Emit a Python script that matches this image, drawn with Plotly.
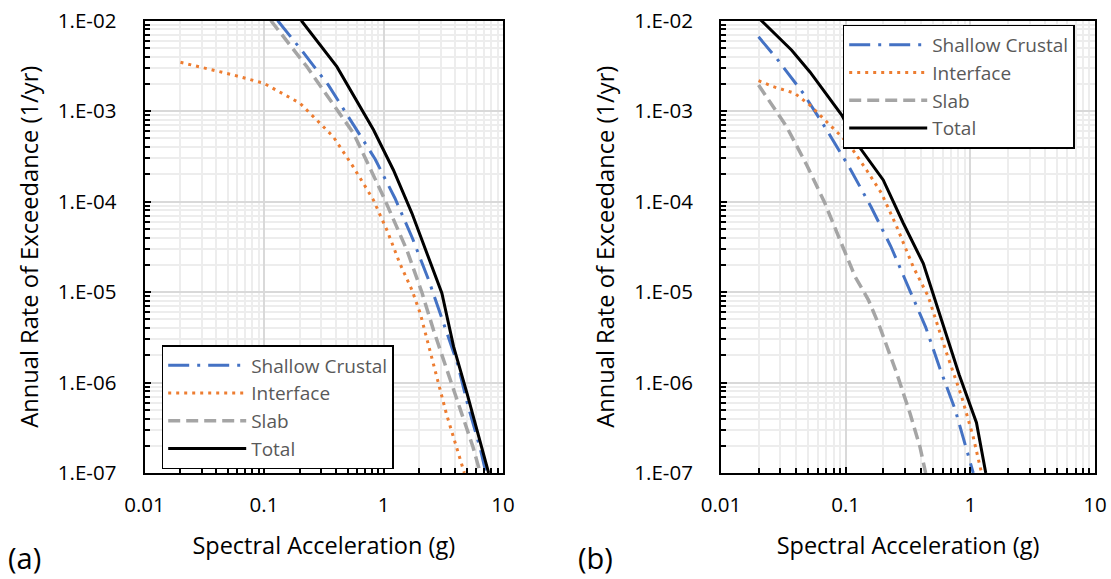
import plotly.graph_objects as go

# ---------------- data: panel (a) ----------------
sa_a_shallow = [0.13, 0.206, 0.345, 0.54, 0.85, 1.25, 1.75, 2.39, 3.17, 4.17, 5.1, 6.45, 7.2]
rate_a_shallow = [1e-2, 4.7e-3, 1.94e-3, 7.6e-4, 2.95e-4, 1.08e-4, 3.9e-5, 1.35e-5,
                  4.6e-6, 1.6e-6, 5.5e-7, 1.87e-7, 1e-7]

sa_a_interface = [0.02, 0.033, 0.0555, 0.1, 0.2, 0.38, 0.56, 0.82, 1.07, 1.37, 1.73,
                  2.03, 2.62, 3.36, 4.75]
rate_a_interface = [3.45e-3, 2.96e-3, 2.5e-3, 2.02e-3, 1.22e-3, 5.2e-4, 2.4e-4, 1.05e-4,
                    4.8e-5, 2.07e-5, 1.05e-5, 5.8e-6, 1.62e-6, 4.5e-7, 1e-7]

sa_a_slab = [0.114, 0.228, 0.56, 1.0, 1.57, 2.1, 2.62, 3.86, 5.6, 6.45]
rate_a_slab = [1e-2, 3.1e-3, 5.7e-4, 1.13e-4, 2.9e-5, 9.8e-6, 3.8e-6, 8.3e-7, 1.95e-7, 1e-7]

sa_a_total = [0.205, 0.407, 0.824, 1.21, 1.73, 3.08, 3.86, 5.0, 7.58]
rate_a_total = [1e-2, 3.09e-3, 6.2e-4, 2.23e-4, 7.4e-5, 9.7e-6, 2.49e-6, 7.6e-7, 1e-7]

# ---------------- data: panel (b) ----------------
sa_b_shallow = [0.02, 0.028, 0.0457, 0.0704, 0.108, 0.16, 0.23, 0.318, 0.438, 0.57,
                0.754, 0.944, 1.055]
rate_b_shallow = [6.6e-3, 3.8e-3, 1.57e-3, 6.2e-4, 2.33e-4, 8.7e-5, 3.2e-5, 1.16e-5,
                  4.1e-6, 1.43e-6, 5.06e-7, 1.72e-7, 1e-7]

sa_b_interface = [0.02, 0.0262, 0.039, 0.0517, 0.0704, 0.105, 0.147, 0.194, 0.257, 0.348,
                  0.46, 0.646, 0.851, 1.055, 1.23]
rate_b_interface = [2.16e-3, 1.86e-3, 1.57e-3, 1.16e-3, 7.6e-4, 4.4e-4, 2.23e-4, 1.23e-4,
                    5.25e-5, 1.9e-5, 8.9e-6, 2.1e-6, 7.0e-7, 2.5e-7, 1e-7]

sa_b_slab = [0.02, 0.0336, 0.0487, 0.0682, 0.09, 0.119, 0.152, 0.188, 0.257, 0.328, 0.394, 0.438]
rate_b_slab = [1.94e-3, 6.7e-4, 2.53e-4, 9.55e-5, 3.76e-5, 1.48e-5, 8.2e-6, 4.1e-6,
               1.26e-6, 4.57e-7, 1.95e-7, 1e-7]

sa_b_total = [0.02, 0.0369, 0.0517, 0.093, 0.1225, 0.2, 0.29, 0.419, 0.815, 1.12, 1.33]
rate_b_total = [1.07e-2, 4.7e-3, 2.7e-3, 9.0e-4, 4.4e-4, 1.73e-4, 5.75e-5, 2.07e-5,
                1.21e-6, 3.6e-7, 1e-7]

# ---------------- axis ticks / labels ----------------
x_tickvals = [0.01, 0.1, 1, 10]
x_ticktext = ["0.01", "0.1", "1", "10"]
y_tickvals = [1e-2, 1e-3, 1e-4, 1e-5, 1e-6, 1e-7]
y_ticktext = ["1.E-02", "1.E-03", "1.E-04", "1.E-05", "1.E-06", "1.E-07"]

series_names = ["Shallow Crustal", "Interface", "Slab", "Total"]
panel_labels = ["(a)", "(b)"]

FONT = "Open Sans, sans-serif"

styles = [
    dict(color="#4472C4", width=3, dash="21px,8px,3px,8px"),
    dict(color="#ED7D31", width=3, dash="3px,5px"),
    dict(color="#A5A5A5", width=3.5, dash="12px,6px"),
    dict(color="#000000", width=3, dash="solid"),
]

panel_a = [(sa_a_shallow, rate_a_shallow), (sa_a_interface, rate_a_interface),
           (sa_a_slab, rate_a_slab), (sa_a_total, rate_a_total)]
panel_b = [(sa_b_shallow, rate_b_shallow), (sa_b_interface, rate_b_interface),
           (sa_b_slab, rate_b_slab), (sa_b_total, rate_b_total)]

fig = go.Figure()

for (xs, ys), name, st in zip(panel_a, series_names, styles):
    fig.add_trace(go.Scatter(x=xs, y=ys, mode="lines", name=name, line=st,
                             xaxis="x", yaxis="y", legend="legend"))
for (xs, ys), name, st in zip(panel_b, series_names, styles):
    fig.add_trace(go.Scatter(x=xs, y=ys, mode="lines", name=name, line=st,
                             xaxis="x2", yaxis="y2", legend="legend2"))

GRID_MAJOR = "#d9d9d9"
GRID_MINOR = "#ededed"


def xaxis_cfg(domain, anchor):
    return dict(
        type="log", range=[-2, 1], domain=domain, anchor=anchor,
        tickmode="array", tickvals=x_tickvals, ticktext=x_ticktext,
        ticks="inside", ticklen=6, tickwidth=1.5, tickcolor="black",
        showline=True, linecolor="black", linewidth=2, mirror=True,
        showgrid=True, gridcolor=GRID_MAJOR, gridwidth=1.5,
        minor=dict(dtick="D1", ticks="inside", ticklen=5, tickwidth=1.5,
                   tickcolor="black", showgrid=True, gridcolor=GRID_MINOR, gridwidth=1.5),
        tickfont=dict(family=FONT, size=20.5, color="black"),
        ticklabelstandoff=12,
        title=dict(text="Spectral Acceleration (g)",
                   font=dict(family=FONT, size=23.5, color="black"), standoff=21),
        automargin=False, zeroline=False,
    )


def yaxis_cfg(domain, anchor):
    return dict(
        type="log", range=[-7, -2], domain=domain, anchor=anchor,
        tickmode="array", tickvals=y_tickvals, ticktext=y_ticktext,
        ticks="inside", ticklen=6, tickwidth=1.5, tickcolor="black",
        showline=True, linecolor="black", linewidth=2, mirror=True,
        showgrid=True, gridcolor=GRID_MAJOR, gridwidth=1.5,
        minor=dict(dtick="D1", ticks="inside", ticklen=5, tickwidth=1.5,
                   tickcolor="black", showgrid=True, gridcolor=GRID_MINOR, gridwidth=1.5),
        tickfont=dict(family=FONT, size=20.5, color="black"),
        ticklabelstandoff=22,
        title=dict(text="Annual Rate of Exceedance (1/yr)",
                   font=dict(family=FONT, size=23.7, color="black"), standoff=13),
        automargin=False, zeroline=False,
    )


W, H = 1111, 579
ydom = [1 - 473 / H, 1 - 20.5 / H]

legend_common = dict(
    xanchor="left", yanchor="top", bgcolor="white",
    bordercolor="black", borderwidth=1.5,
    font=dict(family=FONT, size=19, color="#595959"),
    itemwidth=78, tracegroupgap=0,
)

label_font = dict(family=FONT, size=29, color="black")

fig.update_layout(
    width=W, height=H,
    margin=dict(l=0, r=0, t=0, b=0),
    paper_bgcolor="white", plot_bgcolor="white",
    xaxis=xaxis_cfg([144.5 / W, 503 / W], "y"),
    yaxis=yaxis_cfg(ydom, "x"),
    xaxis2=xaxis_cfg([721 / W, 1095 / W], "y2"),
    yaxis2=yaxis_cfg(ydom, "x2"),
    legend=dict(x=161.7 / W, y=1 - 345 / H, **legend_common),
    legend2=dict(x=842.7 / W, y=1 - 24.5 / H, **legend_common),
    annotations=[
        dict(text=panel_labels[0], x=6 / W, y=1 - 557 / H, xref="paper", yref="paper",
             xanchor="left", yanchor="middle", showarrow=False, font=label_font),
        dict(text=panel_labels[1], x=576 / W, y=1 - 557 / H, xref="paper", yref="paper",
             xanchor="left", yanchor="middle", showarrow=False, font=label_font),
    ],
    showlegend=True,
)

fig.write_html("out.html")
